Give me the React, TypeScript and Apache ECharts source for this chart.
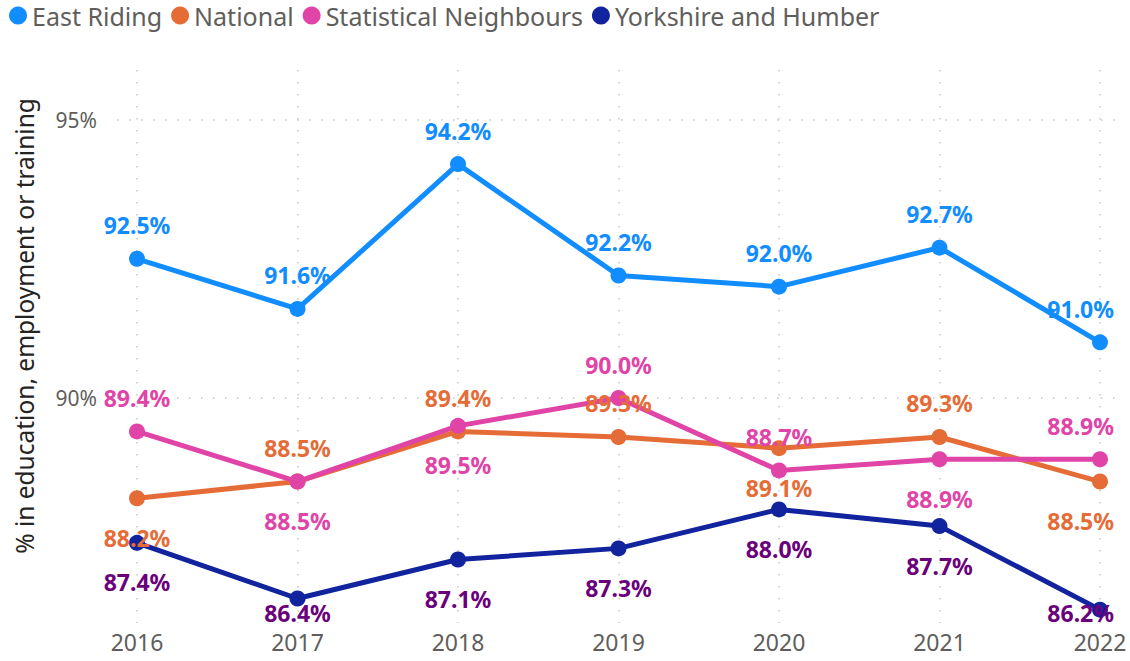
import React, { useEffect, useRef } from "react";
import * as echarts from "echarts";

const years = ["2016", "2017", "2018", "2019", "2020", "2021", "2022"];
const eastRiding = [92.5, 91.6, 94.2, 92.2, 92.0, 92.7, 91.0];
const national = [88.2, 88.5, 89.4, 89.3, 89.1, 89.3, 88.5];
const statNeighbours = [89.4, 88.5, 89.5, 90.0, 88.7, 88.9, 88.9];
const yorkshire = [87.4, 86.4, 87.1, 87.3, 88.0, 87.7, 86.2];

const eastPos = ["top", "top", "top", "top", "top", "top", "top"];
const nationalPos = ["bottom", "top", "top", "top", "bottom", "top", "bottom"];
const snPos = ["top", "bottom", "bottom", "top", "top", "bottom", "top"];
const yorkPos = ["bottom", "bottom", "bottom", "bottom", "bottom", "bottom", "bottom"];

const FONT = "'Segoe UI', 'Noto Sans', sans-serif";
const GRID_COLOR = "#C8C6C4";

function clampLabel(params: any) {
  const r = params.labelRect;
  const maxRight = 1114;
  const maxBottom = 624;
  let dx = 0;
  let dy = 0;
  if (r.x + r.width > maxRight) dx = maxRight - (r.x + r.width);
  if (r.y + r.height > maxBottom) dy = maxBottom - (r.y + r.height);
  return { dx, dy };
}

function makeSeries(
  name: string,
  values: number[],
  pos: string[],
  color: string,
  labelColor: string
) {
  return {
    name,
    type: "line",
    xAxisIndex: 0,
    yAxisIndex: 0,
    symbol: "circle",
    symbolSize: 16,
    lineStyle: { width: 5, color },
    itemStyle: { color },
    color,
    data: values.map((v, i) => ({
      value: v,
      label: {
        position: pos[i],
        distance: pos[i] === "top" ? 14 : 20,
      },
    })),
    label: {
      show: true,
      color: labelColor,
      fontFamily: FONT,
      fontWeight: "bold",
      fontSize: 23,
      formatter: (p: any) => p.value.toFixed(1) + "%",
    },
    labelLayout: clampLabel,
    emphasis: { disabled: true },
  };
}

export default function App() {
  const ref = useRef<HTMLDivElement>(null);
  useEffect(() => {
    if (!ref.current) return;
    const chart = echarts.init(ref.current, undefined, { renderer: "svg" });
    const dotted = { color: GRID_COLOR, width: 1.5, type: [1.5, 10.5] as any };
    chart.setOption({
      animation: false,
      backgroundColor: "#ffffff",
      textStyle: { fontFamily: FONT },
      legend: {
        left: 9,
        top: 3,
        padding: 0,
        itemWidth: 18,
        itemHeight: 18,
        itemGap: 9,
        icon: "circle",
        textStyle: { fontSize: 25, color: "#605E5C", fontFamily: FONT },
        data: ["East Riding", "National", "Statistical Neighbours", "Yorkshire and Humber"],
      },
      grid: [
        { left: 137, right: 30, top: 70, bottom: 38 },
        { left: 117, right: 12, top: 70, bottom: 263 },
      ],
      xAxis: [
        {
          type: "category",
          gridIndex: 0,
          data: years,
          boundaryGap: false,
          axisLine: { show: false },
          axisTick: { show: false },
          axisLabel: { fontSize: 23, color: "#605E5C", margin: 7, fontFamily: FONT },
          splitLine: { show: true, lineStyle: dotted },
        },
        {
          type: "value",
          gridIndex: 1,
          show: false,
        },
      ],
      yAxis: [
        {
          type: "value",
          gridIndex: 0,
          min: 85.96,
          max: 95.89,
          axisLabel: { show: false },
          axisLine: { show: false },
          axisTick: { show: false },
          splitLine: { show: false },
        },
        {
          type: "value",
          gridIndex: 1,
          min: 90,
          max: 95.89,
          interval: 5,
          axisLine: { show: false },
          axisTick: { show: false },
          axisLabel: {
            fontSize: 21,
            color: "#605E5C",
            margin: 20,
            fontFamily: FONT,
            formatter: (v: number) => v + "%",
            showMaxLabel: false,
          },
          splitLine: { show: true, showMaxLine: false, lineStyle: dotted },
        },
      ],
      graphic: [
        {
          type: "text",
          x: 24,
          y: 326,
          rotation: Math.PI / 2,
          style: {
            text: "% in education, employment or training",
            fontSize: 24.5,
            fontFamily: FONT,
            fill: "#252423",
            align: "center",
            verticalAlign: "middle",
          },
        },
      ],
      series: [
        makeSeries("East Riding", eastRiding, eastPos, "#118DFF", "#118DFF"),
        makeSeries("National", national, nationalPos, "#E66C37", "#E66C37"),
        makeSeries("Statistical Neighbours", statNeighbours, snPos, "#E044A7", "#E044A7"),
        makeSeries("Yorkshire and Humber", yorkshire, yorkPos, "#12239E", "#6B007B"),
      ],
    });
    return () => chart.dispose();
  }, []);
  return (
    <div
      ref={ref}
      style={{ position: "fixed", left: 0, top: 0, width: 1130, height: 661 }}
    />
  );
}
